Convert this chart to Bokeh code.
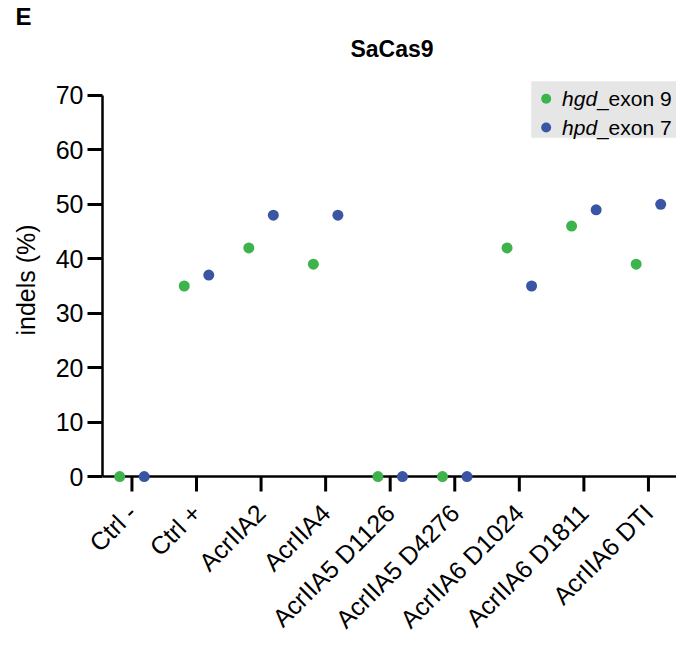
import numpy as np
from bokeh.plotting import figure
from bokeh.models import Range1d, FixedTicker, Title
from bokeh.core.properties import value
from bokeh.embed import file_html
from bokeh.resources import INLINE

# ---------------- data ----------------
categories = ["Ctrl -", "Ctrl +", "AcrIIA2", "AcrIIA4", "AcrIIA5 D1126",
              "AcrIIA5 D4276", "AcrIIA6 D1024", "AcrIIA6 D1811", "AcrIIA6 DTI"]
hgd_exon9 = [0, 35, 42, 39, 0, 0, 42, 46, 39]
hpd_exon7 = [0, 37, 48, 48, 0, 0, 35, 49, 50]
y_ticks = [0, 10, 20, 30, 40, 50, 60, 70]
series_gene = ["hgd", "hpd"]
series_suffix = ["_exon 9", "_exon 7"]
chart_title = "SaCas9"
panel_letter = "E"
y_label = "indels (%)"

# ---------------- style ----------------
FONT = "Liberation Sans"
GREEN = "#3cb44b"
BLUE = "#3b55a5"
W, H = 676, 646
# frame geometry in page pixels (Bokeh page has no body margin)
FRAME_L, FRAME_R = 99, W
X0_PX, DX_PX = 128.6, 64.9      # page x of first category, px per category
Y0_PX, DY_PX = 478.0, 5.481     # page y of value 0, px per unit
FRAME_T_PX = 28
TICK_PX = 15
FRAME_B_PX = 496
YLABEL_BOTTOM_PX = 337          # page y where the rotated y label starts

def lx(px):
    return (px - X0_PX) / DX_PX

def ly(py):
    return (Y0_PX - py) / DY_PX

x_start, x_end = lx(FRAME_L), lx(FRAME_R)
y_start, y_end = ly(FRAME_B_PX), ly(FRAME_T_PX)
tick_end = ly(Y0_PX + TICK_PX)

p = figure(width=W, height=H, output_backend="svg", toolbar_location=None,
           x_range=Range1d(x_start, x_end), y_range=Range1d(y_start, y_end),
           min_border_left=FRAME_L, min_border_right=0,
           min_border_top=FRAME_T_PX,
           min_border_bottom=int(round(H - FRAME_B_PX)))
p.title = None
p.outline_line_color = None
p.grid.visible = False
p.background_fill_color = "white"
p.border_fill_color = "white"

# panel letter as a title above the frame
p.add_layout(Title(text=panel_letter, align="left", offset=12 - FRAME_L, text_font=FONT,
                   text_font_size="24px", text_font_style="bold",
                   text_color="black", standoff=0), "above")
# chart title (inside the tall frame, above the axis)
p.text(x=[lx(390)], y=[ly(48)], text=[chart_title], text_font=value(FONT),
       text_font_size="23px", text_font_style="bold", text_align="center",
       text_baseline="alphabetic", text_color="black")

# y axis
ya = p.yaxis[0]
ya.axis_line_width = 2.5
ya.axis_line_color = "black"
ya.major_tick_line_width = 3
ya.major_tick_line_color = "black"
ya.major_tick_out = TICK_PX
ya.major_tick_in = 0
ya.minor_tick_line_color = None
ya.major_label_text_font = FONT
ya.major_label_text_color = "black"
ya.ticker = FixedTicker(ticks=y_ticks)
ya.bounds = (y_ticks[0], y_ticks[-1])
ya.major_label_text_font_size = "25px"
ya.major_label_standoff = 4
# y axis title as a left-side Title so it can sit on the 0-70 span
p.add_layout(Title(text=y_label, align="left", vertical_align="top",
                   offset=FRAME_B_PX - YLABEL_BOTTOM_PX,
                   text_font=FONT, text_font_size="25px", text_font_style="normal",
                   text_color="black", standoff=22), "left")

# x axis: labels from Bokeh's axis, line + ticks drawn at value 0
xpos = np.arange(len(categories))
xa = p.xaxis[0]
xa.ticker = FixedTicker(ticks=[int(i) for i in xpos])
xa.major_label_overrides = {int(i): c for i, c in zip(xpos, categories)}
xa.major_label_orientation = np.pi / 4
xa.major_label_text_font = FONT
xa.major_label_text_color = "black"
xa.major_label_text_font_size = "25px"
xa.major_label_standoff = 14
xa.major_tick_out = 0
xa.major_tick_in = 0
xa.axis_line_color = None
xa.major_tick_line_color = None
xa.minor_tick_line_color = None

p.segment(x0=[x_start], y0=[0], x1=[x_end], y1=[0], line_color="black", line_width=2.5)
p.segment(x0=xpos, y0=[0] * len(xpos), x1=xpos, y1=[tick_end] * len(xpos),
          line_color="black", line_width=3)

# legend box (manual, for mixed italic text)
p.quad(left=lx(530), right=lx(W + 40), top=ly(80), bottom=ly(137),
       fill_color="#e6e6e6", line_color=None)
leg_y = [ly(97.7), ly(126.7)]
p.scatter(x=[lx(545)] * 2, y=leg_y, size=10, color=[GREEN, BLUE], line_color=None)
p.text(x=[lx(561)] * 2, y=leg_y, text=series_gene, text_font=value(FONT),
       text_font_size="21px", text_font_style="italic", text_baseline="middle",
       text_align="left", text_color="black")
p.text(x=[lx(596)] * 2, y=leg_y, text=series_suffix, text_font=value(FONT),
       text_font_size="21px", text_baseline="middle", text_align="left",
       text_color="black")

# data
OFF = 0.19
p.scatter(x=xpos - OFF, y=hgd_exon9, size=11, color=GREEN, line_color=None)
p.scatter(x=xpos + OFF, y=hpd_exon7, size=11, color=BLUE, line_color=None)

open("out.html", "w").write(file_html(p, INLINE))
